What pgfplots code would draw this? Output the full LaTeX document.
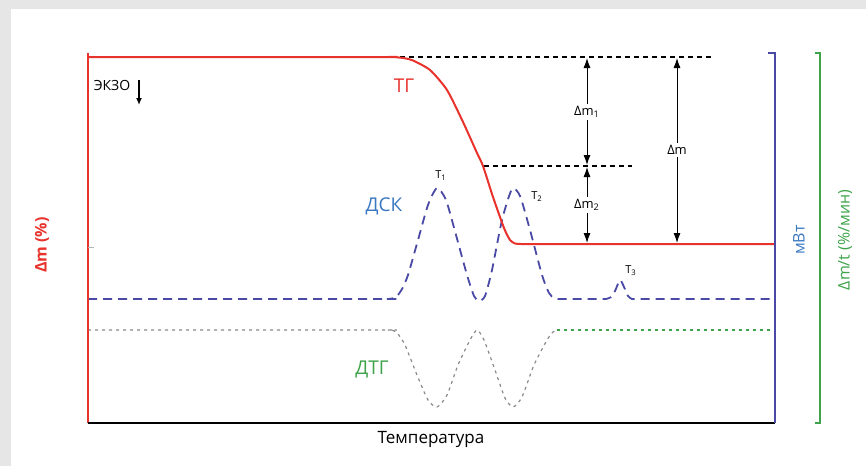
\documentclass[border=0pt]{standalone}
\usepackage{fontspec}
\setmainfont{Open Sans}
\usepackage{pgfplots}
\pgfplotsset{compat=1.18}
\usetikzlibrary{arrows.meta}
\definecolor{bg}{HTML}{E6E6E6}
\definecolor{tgred}{HTML}{E8322C}
\definecolor{dscblue}{HTML}{4A4AA6}
\definecolor{lblblue}{HTML}{3A78C2}
\definecolor{dtggreen}{HTML}{3EA34A}
\definecolor{dtggray}{HTML}{8A8A8A}
\begin{document}
\begin{tikzpicture}
\begin{axis}[scale only axis, width=433pt, height=233pt,
  xmin=0, xmax=866, ymin=0, ymax=466, y dir=reverse,
  hide axis, clip=false]
% background
\fill[bg] (axis cs:0,0) rectangle (axis cs:866,466);
\fill[white] (axis cs:11,9) rectangle (axis cs:866,466);
% DTG (gray part)
\addplot[dtggray, line width=0.6pt, dash pattern=on 1.5pt off 2pt, smooth, tension=0.4] coordinates {
(88,330)(380,330)(388,330)(393,330.5)(398,334)(405,345)(417,375)(428,400)(437,407)(447,395)(458,365)(470,340)(477,330)(484,340)(495,370)(505,398)(513,407)(522,397)(534,365)(547,340)(553,332)(557,330)};
\addplot[dtggreen, line width=0.6pt, dash pattern=on 1.5pt off 2pt] coordinates {(557,330)(775,330)};
% DSC
\addplot[dscblue, line width=0.9pt, dash pattern=on 4.5pt off 3pt, smooth, tension=0.4] coordinates {
(88,299)(380,299)(387,299)(392,298.5)(397,296)(402,289)(408,275)(418,240)(428,205)(437,188)(446,200)(456,235)(467,275)(474,296)(479,301)(485,296)(492,270)(502,220)(512,189)(520,196)(530,230)(542,275)(549,293)(554,298)(559,299)(566,299)(600,299)(606,299)(611,297)(615,291)(620,280)(624,287)(628,296)(632,299)(638,299)(650,299)(775,299)};
% reference dashed lines
\addplot[black, line width=0.6pt, dash pattern=on 2.5pt off 2pt] coordinates {(400,57)(712,57)};
\addplot[black, line width=0.6pt, dash pattern=on 2.5pt off 2pt] coordinates {(484,166)(632,166)};
% TG
\addplot[tgred, line width=1pt, smooth, tension=0.4] coordinates {
(88,57)(380,57)(390,57)(397,57.3)(405,58.3)(413,60.5)(430,70)(447,90)(463,122)(477,153)(483,166)(493,197)(504,228)(510,240)(515,243.5)(521,244)(530,244)(545,244)(775,244)};
% axes frame
\draw[tgred, line width=0.8pt] (axis cs:88,53) -- (axis cs:88,423);
\draw[black, line width=0.9pt] (axis cs:88,423) -- (axis cs:775,423);
\draw[dscblue, line width=0.8pt] (axis cs:768,53) -- (axis cs:775,53) -- (axis cs:775,423);
\draw[dtggreen, line width=0.8pt] (axis cs:815,53) -- (axis cs:820,53) -- (axis cs:820,423) -- (axis cs:815,423);
\draw[gray!60, line width=0.5pt] (axis cs:88,247) -- (axis cs:94,247);
% arrows
\draw[black, line width=0.5pt, {Latex[length=5pt,width=3.5pt]}-{Latex[length=5pt,width=3.5pt]}] (axis cs:587,58) -- (axis cs:587,165);
\draw[black, line width=0.5pt, {Latex[length=5pt,width=3.5pt]}-{Latex[length=5pt,width=3.5pt]}] (axis cs:587,167) -- (axis cs:587,243);
\draw[black, line width=0.5pt, {Latex[length=5pt,width=3.5pt]}-{Latex[length=5pt,width=3.5pt]}] (axis cs:677,58) -- (axis cs:677,243);
\node[fill=white, inner sep=1pt, font=\fontsize{6.5}{7}\selectfont] at (axis cs:587,112) {Δm\textsubscript{1}};
\node[fill=white, inner sep=1pt, font=\fontsize{6.5}{7}\selectfont] at (axis cs:587,205) {Δm\textsubscript{2}};
\node[fill=white, inner sep=1pt, font=\fontsize{6.5}{7}\selectfont] at (axis cs:677,150) {Δm};
% curve labels
\node[tgred, font=\fontsize{9.5}{10}\selectfont] at (axis cs:404,86) {ТГ};
\node[lblblue, font=\fontsize{9.5}{10}\selectfont] at (axis cs:384,206) {ДСК};
\node[dtggreen, font=\fontsize{9.5}{10}\selectfont] at (axis cs:372,369) {ДТГ};
\node[font=\fontsize{5.5}{6}\selectfont] at (axis cs:441,176) {T\textsubscript{1}};
\node[font=\fontsize{5.5}{6}\selectfont] at (axis cs:537,197) {T\textsubscript{2}};
\node[font=\fontsize{5.5}{6}\selectfont] at (axis cs:631,271) {T\textsubscript{3}};
\node[font=\fontsize{7}{8}\selectfont] at (axis cs:112,85) {ЭКЗО};
\draw[black, line width=0.7pt, -{Latex[length=3.5pt,width=3pt]}] (axis cs:139,80) -- (axis cs:139,105);
% axis labels
\node[tgred, rotate=90, font=\fontsize{8}{9}\selectfont\bfseries] at (axis cs:42,245) {Δm (\%)};
\node[lblblue, rotate=90, font=\fontsize{8}{9}\selectfont] at (axis cs:799,240) {мВт};
\node[dtggreen, rotate=90, font=\fontsize{8}{9}\selectfont] at (axis cs:845,240) {Δm/t (\%/мин)};
\node[black, font=\fontsize{8.5}{9}\selectfont] at (axis cs:431,439) {Температура};
\end{axis}
\end{tikzpicture}
\end{document}
